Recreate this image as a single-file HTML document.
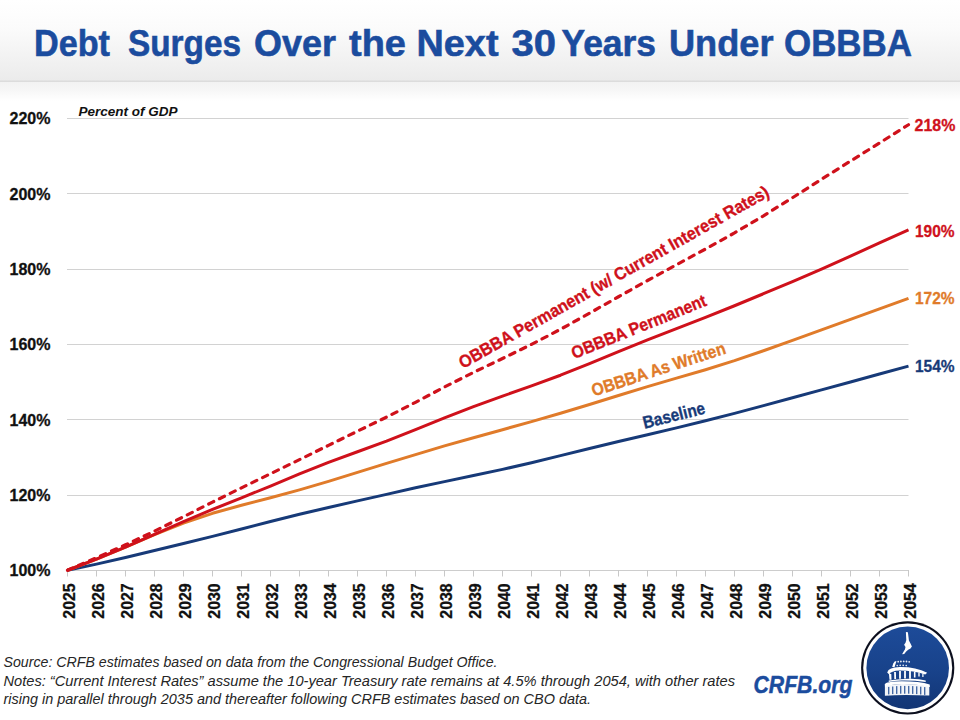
<!DOCTYPE html>
<html><head><meta charset="utf-8"><style>
html,body{margin:0;padding:0;background:#fff;}
body{width:960px;height:720px;overflow:hidden;position:relative;}
svg{position:absolute;left:0;top:0;}
text{font-family:"Liberation Sans",sans-serif;}
.yl{font-weight:bold;font-size:17px;fill:#111;stroke:#111;stroke-width:0.3px;}
.xl{font-weight:bold;font-size:16.5px;fill:#111;stroke:#111;stroke-width:0.3px;}
.rl{font-weight:bold;font-size:17px;stroke-width:0.3px;}
.ll{font-weight:bold;font-size:17.5px;stroke-width:0.35px;}
.fn{font-style:italic;font-size:14.3px;fill:#262626;}
</style></head><body>
<svg width="960" height="720" viewBox="0 0 960 720">
<defs>
<linearGradient id="hdr" x1="0" y1="0" x2="0" y2="1">
<stop offset="0" stop-color="#ffffff"/><stop offset="0.35" stop-color="#fbfbfb"/><stop offset="1" stop-color="#ebebeb"/>
</linearGradient>
<linearGradient id="shd" x1="0" y1="0" x2="0" y2="1">
<stop offset="0" stop-color="#f2f2f2"/><stop offset="0.4" stop-color="#f6f6f6"/><stop offset="1" stop-color="#ffffff"/>
</linearGradient>
<linearGradient id="lg" x1="0" y1="0" x2="0" y2="1">
<stop offset="0" stop-color="#1d4b99"/><stop offset="0.55" stop-color="#18428a"/><stop offset="1" stop-color="#123574"/>
</linearGradient>
</defs>
<rect x="0" y="0" width="960" height="81" fill="url(#hdr)"/>
<rect x="0" y="80.5" width="960" height="1.5" fill="#dcdcdc"/>
<rect x="0" y="82" width="960" height="19" fill="url(#shd)"/>
<g font-size="37.7" font-weight="bold" fill="#1b4c9e" stroke="#1b4c9e" stroke-width="0.6"><text x="34" y="56.25" textLength="76" lengthAdjust="spacingAndGlyphs">Debt</text><text x="128" y="56.25" textLength="113" lengthAdjust="spacingAndGlyphs">Surges</text><text x="254" y="56.25" textLength="82" lengthAdjust="spacingAndGlyphs">Over</text><text x="349" y="56.25" textLength="57" lengthAdjust="spacingAndGlyphs">the</text><text x="416.5" y="56.25" textLength="82.0" lengthAdjust="spacingAndGlyphs">Next</text><text x="511.5" y="56.25" textLength="44.5" lengthAdjust="spacingAndGlyphs">30</text><text x="561.5" y="56.25" textLength="94.5" lengthAdjust="spacingAndGlyphs">Years</text><text x="669" y="56.25" textLength="104.5" lengthAdjust="spacingAndGlyphs">Under</text><text x="784" y="56.25" textLength="128" lengthAdjust="spacingAndGlyphs">OBBBA</text></g>
<rect x="67" y="118" width="841.5" height="1" fill="#d2d2d2"/><rect x="67" y="193" width="841.5" height="1" fill="#d2d2d2"/><rect x="67" y="269" width="841.5" height="1" fill="#d2d2d2"/><rect x="67" y="344" width="841.5" height="1" fill="#d2d2d2"/><rect x="67" y="419" width="841.5" height="1" fill="#d2d2d2"/><rect x="67" y="495" width="841.5" height="1" fill="#d2d2d2"/>
<rect x="67" y="570" width="842" height="1" fill="#cdcdcd"/>
<line x1="67.50" y1="570" x2="67.50" y2="576.5" stroke="#c8c8c8" stroke-width="1"/><line x1="96.50" y1="570" x2="96.50" y2="576.5" stroke="#c8c8c8" stroke-width="1"/><line x1="125.50" y1="570" x2="125.50" y2="576.5" stroke="#c8c8c8" stroke-width="1"/><line x1="154.50" y1="570" x2="154.50" y2="576.5" stroke="#c8c8c8" stroke-width="1"/><line x1="183.50" y1="570" x2="183.50" y2="576.5" stroke="#c8c8c8" stroke-width="1"/><line x1="212.50" y1="570" x2="212.50" y2="576.5" stroke="#c8c8c8" stroke-width="1"/><line x1="241.50" y1="570" x2="241.50" y2="576.5" stroke="#c8c8c8" stroke-width="1"/><line x1="270.50" y1="570" x2="270.50" y2="576.5" stroke="#c8c8c8" stroke-width="1"/><line x1="299.50" y1="570" x2="299.50" y2="576.5" stroke="#c8c8c8" stroke-width="1"/><line x1="328.50" y1="570" x2="328.50" y2="576.5" stroke="#c8c8c8" stroke-width="1"/><line x1="357.50" y1="570" x2="357.50" y2="576.5" stroke="#c8c8c8" stroke-width="1"/><line x1="386.50" y1="570" x2="386.50" y2="576.5" stroke="#c8c8c8" stroke-width="1"/><line x1="415.50" y1="570" x2="415.50" y2="576.5" stroke="#c8c8c8" stroke-width="1"/><line x1="444.50" y1="570" x2="444.50" y2="576.5" stroke="#c8c8c8" stroke-width="1"/><line x1="473.50" y1="570" x2="473.50" y2="576.5" stroke="#c8c8c8" stroke-width="1"/><line x1="502.50" y1="570" x2="502.50" y2="576.5" stroke="#c8c8c8" stroke-width="1"/><line x1="531.50" y1="570" x2="531.50" y2="576.5" stroke="#c8c8c8" stroke-width="1"/><line x1="560.50" y1="570" x2="560.50" y2="576.5" stroke="#c8c8c8" stroke-width="1"/><line x1="589.50" y1="570" x2="589.50" y2="576.5" stroke="#c8c8c8" stroke-width="1"/><line x1="618.50" y1="570" x2="618.50" y2="576.5" stroke="#c8c8c8" stroke-width="1"/><line x1="647.50" y1="570" x2="647.50" y2="576.5" stroke="#c8c8c8" stroke-width="1"/><line x1="676.50" y1="570" x2="676.50" y2="576.5" stroke="#c8c8c8" stroke-width="1"/><line x1="705.50" y1="570" x2="705.50" y2="576.5" stroke="#c8c8c8" stroke-width="1"/><line x1="734.50" y1="570" x2="734.50" y2="576.5" stroke="#c8c8c8" stroke-width="1"/><line x1="763.50" y1="570" x2="763.50" y2="576.5" stroke="#c8c8c8" stroke-width="1"/><line x1="792.50" y1="570" x2="792.50" y2="576.5" stroke="#c8c8c8" stroke-width="1"/><line x1="821.50" y1="570" x2="821.50" y2="576.5" stroke="#c8c8c8" stroke-width="1"/><line x1="850.50" y1="570" x2="850.50" y2="576.5" stroke="#c8c8c8" stroke-width="1"/><line x1="879.50" y1="570" x2="879.50" y2="576.5" stroke="#c8c8c8" stroke-width="1"/><line x1="908.50" y1="570" x2="908.50" y2="576.5" stroke="#c8c8c8" stroke-width="1"/>
<text x="9.5" y="576.25" class="yl" textLength="41" lengthAdjust="spacingAndGlyphs">100%</text><text x="9.5" y="500.93" class="yl" textLength="41" lengthAdjust="spacingAndGlyphs">120%</text><text x="9.5" y="425.61" class="yl" textLength="41" lengthAdjust="spacingAndGlyphs">140%</text><text x="9.5" y="350.29" class="yl" textLength="41" lengthAdjust="spacingAndGlyphs">160%</text><text x="9.5" y="274.97" class="yl" textLength="41" lengthAdjust="spacingAndGlyphs">180%</text><text x="9.5" y="199.65" class="yl" textLength="41" lengthAdjust="spacingAndGlyphs">200%</text><text x="9.5" y="124.33" class="yl" textLength="41" lengthAdjust="spacingAndGlyphs">220%</text>
<text x="78.5" y="115.6" font-size="13.6" font-weight="bold" font-style="italic" fill="#111" textLength="99" lengthAdjust="spacingAndGlyphs">Percent of GDP</text>
<path d="M67.50,570.25 L96.50,564.12 L125.50,557.50 L154.50,550.57 L183.50,543.57 L212.50,536.38 L241.50,528.97 L270.50,521.52 L299.50,514.28 L328.50,507.45 L357.50,500.91 L386.50,494.35 L415.50,487.83 L444.50,481.60 L473.50,475.57 L502.50,469.37 L531.50,462.71 L560.50,455.65 L589.50,448.49 L618.50,441.50 L647.50,434.67 L676.50,427.85 L705.50,420.81 L734.50,413.40 L763.50,405.65 L792.50,397.77 L821.50,389.86 L850.50,381.95 L879.50,374.04 L908.50,366.13" fill="none" stroke="#173a78" stroke-width="3.0" stroke-linejoin="round" stroke-linecap="butt"/>
<path d="M67.50,570.25 L96.50,559.16 L125.50,547.16 L154.50,534.64 L183.50,523.01 L212.50,513.31 L241.50,505.29 L270.50,497.78 L299.50,489.87 L328.50,481.35 L357.50,472.43 L386.50,463.44 L415.50,454.56 L444.50,445.92 L473.50,437.69 L502.50,429.71 L531.50,421.61 L560.50,413.21 L589.50,404.48 L618.50,395.53 L647.50,386.68 L676.50,378.16 L705.50,369.69 L734.50,360.60 L763.50,350.72 L792.50,340.41 L821.50,329.96 L850.50,319.43 L879.50,308.89 L908.50,298.34" fill="none" stroke="#e07b2a" stroke-width="3.0" stroke-linejoin="round" stroke-linecap="butt"/>
<path d="M67.50,570.25 L96.50,559.16 L125.50,547.16 L154.50,534.40 L183.50,521.65 L212.50,509.48 L241.50,497.85 L270.50,486.03 L299.50,473.89 L328.50,462.35 L357.50,451.74 L386.50,441.08 L415.50,429.66 L444.50,417.92 L473.50,406.66 L502.50,396.14 L531.50,385.90 L560.50,375.22 L589.50,363.61 L618.50,351.54 L647.50,339.84 L676.50,328.64 L705.50,317.41 L734.50,305.76 L763.50,293.73 L792.50,281.52 L821.50,269.02 L850.50,256.12 L879.50,242.98 L908.50,229.80" fill="none" stroke="#cf111b" stroke-width="3.0" stroke-linejoin="round" stroke-linecap="butt"/>
<path d="M67.50,570.25 L96.50,557.78 L125.50,544.83 L154.50,531.13 L183.50,516.73 L212.50,502.13 L241.50,487.82 L270.50,473.75 L299.50,459.62 L328.50,445.34 L357.50,431.19 L386.50,417.12 L415.50,402.31 L444.50,387.01 L473.50,372.39 L502.50,358.51 L531.50,344.38 L560.50,329.30 L589.50,313.22 L618.50,296.74 L647.50,280.50 L676.50,264.71 L705.50,249.06 L734.50,232.91 L763.50,215.78 L792.50,197.70 L821.50,179.29 L850.50,161.10 L879.50,143.00 L908.50,124.73" fill="none" stroke="#cf111b" stroke-width="3.2" stroke-dasharray="5.6 6.4" stroke-linecap="round" stroke-linejoin="round"/>
<text transform="translate(75.10,583.3) rotate(-90)" text-anchor="end" class="xl" textLength="35.4" lengthAdjust="spacingAndGlyphs">2025</text><text transform="translate(104.10,583.3) rotate(-90)" text-anchor="end" class="xl" textLength="35.4" lengthAdjust="spacingAndGlyphs">2026</text><text transform="translate(133.10,583.3) rotate(-90)" text-anchor="end" class="xl" textLength="35.4" lengthAdjust="spacingAndGlyphs">2027</text><text transform="translate(162.10,583.3) rotate(-90)" text-anchor="end" class="xl" textLength="35.4" lengthAdjust="spacingAndGlyphs">2028</text><text transform="translate(191.10,583.3) rotate(-90)" text-anchor="end" class="xl" textLength="35.4" lengthAdjust="spacingAndGlyphs">2029</text><text transform="translate(220.10,583.3) rotate(-90)" text-anchor="end" class="xl" textLength="35.4" lengthAdjust="spacingAndGlyphs">2030</text><text transform="translate(249.10,583.3) rotate(-90)" text-anchor="end" class="xl" textLength="35.4" lengthAdjust="spacingAndGlyphs">2031</text><text transform="translate(278.10,583.3) rotate(-90)" text-anchor="end" class="xl" textLength="35.4" lengthAdjust="spacingAndGlyphs">2032</text><text transform="translate(307.10,583.3) rotate(-90)" text-anchor="end" class="xl" textLength="35.4" lengthAdjust="spacingAndGlyphs">2033</text><text transform="translate(336.10,583.3) rotate(-90)" text-anchor="end" class="xl" textLength="35.4" lengthAdjust="spacingAndGlyphs">2034</text><text transform="translate(365.10,583.3) rotate(-90)" text-anchor="end" class="xl" textLength="35.4" lengthAdjust="spacingAndGlyphs">2035</text><text transform="translate(394.10,583.3) rotate(-90)" text-anchor="end" class="xl" textLength="35.4" lengthAdjust="spacingAndGlyphs">2036</text><text transform="translate(423.10,583.3) rotate(-90)" text-anchor="end" class="xl" textLength="35.4" lengthAdjust="spacingAndGlyphs">2037</text><text transform="translate(452.10,583.3) rotate(-90)" text-anchor="end" class="xl" textLength="35.4" lengthAdjust="spacingAndGlyphs">2038</text><text transform="translate(481.10,583.3) rotate(-90)" text-anchor="end" class="xl" textLength="35.4" lengthAdjust="spacingAndGlyphs">2039</text><text transform="translate(510.10,583.3) rotate(-90)" text-anchor="end" class="xl" textLength="35.4" lengthAdjust="spacingAndGlyphs">2040</text><text transform="translate(539.10,583.3) rotate(-90)" text-anchor="end" class="xl" textLength="35.4" lengthAdjust="spacingAndGlyphs">2041</text><text transform="translate(568.10,583.3) rotate(-90)" text-anchor="end" class="xl" textLength="35.4" lengthAdjust="spacingAndGlyphs">2042</text><text transform="translate(597.10,583.3) rotate(-90)" text-anchor="end" class="xl" textLength="35.4" lengthAdjust="spacingAndGlyphs">2043</text><text transform="translate(626.10,583.3) rotate(-90)" text-anchor="end" class="xl" textLength="35.4" lengthAdjust="spacingAndGlyphs">2044</text><text transform="translate(655.10,583.3) rotate(-90)" text-anchor="end" class="xl" textLength="35.4" lengthAdjust="spacingAndGlyphs">2045</text><text transform="translate(684.10,583.3) rotate(-90)" text-anchor="end" class="xl" textLength="35.4" lengthAdjust="spacingAndGlyphs">2046</text><text transform="translate(713.10,583.3) rotate(-90)" text-anchor="end" class="xl" textLength="35.4" lengthAdjust="spacingAndGlyphs">2047</text><text transform="translate(742.10,583.3) rotate(-90)" text-anchor="end" class="xl" textLength="35.4" lengthAdjust="spacingAndGlyphs">2048</text><text transform="translate(771.10,583.3) rotate(-90)" text-anchor="end" class="xl" textLength="35.4" lengthAdjust="spacingAndGlyphs">2049</text><text transform="translate(800.10,583.3) rotate(-90)" text-anchor="end" class="xl" textLength="35.4" lengthAdjust="spacingAndGlyphs">2050</text><text transform="translate(829.10,583.3) rotate(-90)" text-anchor="end" class="xl" textLength="35.4" lengthAdjust="spacingAndGlyphs">2051</text><text transform="translate(858.10,583.3) rotate(-90)" text-anchor="end" class="xl" textLength="35.4" lengthAdjust="spacingAndGlyphs">2052</text><text transform="translate(887.10,583.3) rotate(-90)" text-anchor="end" class="xl" textLength="35.4" lengthAdjust="spacingAndGlyphs">2053</text><text transform="translate(916.10,583.3) rotate(-90)" text-anchor="end" class="xl" textLength="35.4" lengthAdjust="spacingAndGlyphs">2054</text>
<text x="914.6" y="131" class="rl" fill="#cf111b" stroke="#cf111b" textLength="40.8" lengthAdjust="spacingAndGlyphs">218%</text>
<text x="915" y="236.5" class="rl" fill="#cf111b" stroke="#cf111b" textLength="39.6" lengthAdjust="spacingAndGlyphs">190%</text>
<text x="915" y="304" class="rl" fill="#e07b2a" stroke="#e07b2a" textLength="39.6" lengthAdjust="spacingAndGlyphs">172%</text>
<text x="915" y="372" class="rl" fill="#173a78" stroke="#173a78" textLength="39.6" lengthAdjust="spacingAndGlyphs">154%</text>
<text transform="translate(463,368.9) rotate(-29.4)" class="ll" fill="#cf111b" stroke="#cf111b" textLength="353" lengthAdjust="spacingAndGlyphs">OBBBA Permanent (w/ Current Interest Rates)</text>
<text transform="translate(574.2,359.2) rotate(-22.0)" class="ll" fill="#cf111b" stroke="#cf111b" textLength="144" lengthAdjust="spacingAndGlyphs">OBBBA Permanent</text>
<text transform="translate(593.7,396.5) rotate(-18.0)" class="ll" fill="#e07b2a" stroke="#e07b2a" textLength="140" lengthAdjust="spacingAndGlyphs">OBBBA As Written</text>
<text transform="translate(644.5,428.7) rotate(-14)" class="ll" fill="#173a78" stroke="#173a78" textLength="63.5" lengthAdjust="spacingAndGlyphs">Baseline</text>
<text x="3.5" y="667" class="fn" textLength="494" lengthAdjust="spacingAndGlyphs">Source: CRFB estimates based on data from the Congressional Budget Office.</text>
<text x="3.5" y="685.75" class="fn" textLength="731.5" lengthAdjust="spacingAndGlyphs">Notes: “Current Interest Rates” assume the 10-year Treasury rate remains at 4.5% through 2054, with other rates</text>
<text x="3.5" y="704.25" class="fn" textLength="587.5" lengthAdjust="spacingAndGlyphs">rising in parallel through 2035 and thereafter following CRFB estimates based on CBO data.</text>
<text x="753.5" y="693.2" font-size="24" stroke="#1b4c9e" stroke-width="0.5" font-weight="bold" font-style="italic" fill="#1b4c9e" textLength="99" lengthAdjust="spacingAndGlyphs">CRFB.org</text>
<g transform="translate(907.7,667.9)">
<circle r="46.6" fill="#0c0f1e"/>
<circle r="44.5" fill="#ffffff"/>
<circle r="41.3" fill="url(#lg)"/>
<g fill="#ffffff">
<path d="M-1.8,-35.8 L0.2,-35.6 L0.8,-31 L1.2,-27.5 L2.8,-24.5 L4.2,-21.5 L2.8,-19.5 L0.5,-18.2 L-1.5,-16.5 L-3.5,-14 L-5.6,-13.6 L-4.2,-16.2 L-2.8,-18.5 L-2.2,-21 L-3.6,-23.2 L-2.2,-25.2 L-1.4,-28 L-1.6,-31.5 Z"/>
<path d="M-15.5,-1 L-14.5,-4.5 L-12.8,-6.6 L-11.2,-6.6 L-12.2,-4 L-13.2,-0.6 Z"/>
<g opacity="0.9"><circle cx="-9.5" cy="-6.2" r="0.9"/><circle cx="-6.8" cy="-6.4" r="0.9"/><circle cx="-4" cy="-6.5" r="0.9"/><circle cx="-1.2" cy="-6.4" r="0.9"/><circle cx="1.5" cy="-6.1" r="0.9"/>
<circle cx="-10.5" cy="-2.3" r="0.8"/><circle cx="-7.5" cy="-2.5" r="0.8"/><circle cx="-4.5" cy="-2.5" r="0.8"/><circle cx="-1.5" cy="-2.3" r="0.8"/></g>
<path d="M-20.5,4.5 Q-19,-0.5 -8,-0.8 Q8,-1 19.5,4.8 L17.5,6.5 Q6,2.5 -8,2.5 Q-17,2.8 -18.5,6.5 Z"/>
<path d="M-18.8,5.5 L-18.2,11.8 L-16.2,11.8 L-16.4,6 Z M-13.6,4 L-13.4,11.2 L-11.6,11.2 L-11.8,4 Z M-8.6,3.2 L-8.6,10.8 L-6.8,10.8 L-6.8,3.2 Z M-3.6,3 L-3.6,10.6 L-1.8,10.6 L-1.8,3 Z M1.4,3.2 L1.4,10.8 L3.2,10.8 L3.2,3.2 Z M6.2,3.8 L6.2,9.5 L7.8,9.5 L7.8,3.8 Z M10.6,4.6 L10.6,8.5 L12,8.5 L12,4.6 Z M14.6,5.6 L14.6,9 L15.8,9 L15.8,5.6 Z"/>
<path d="M-19,12.5 Q-6,10.6 3,10.8 Q12,11 18,12.5 L18,14 Q6,12.4 -6,12.6 Q-14,13 -19,14.2 Z"/>
<path d="M-23,16.5 Q-22,13.6 -6,13.4 Q12,13.5 22,16.6 L22.2,19 Q8,16 -6,16.2 Q-18,16.4 -22.6,19.5 Z"/>
<path d="M-22.8,18 L-22.8,27.8 Q-6,26.4 21.6,27.6 L21.6,18 Q8,16 -6,16.2 Q-18,16.6 -22.8,18 Z" opacity="0.95"/>
</g>
<g fill="#1a4791">
<rect x="-19.5" y="19" width="1.1" height="7.5"/><rect x="-15.5" y="18.6" width="1.1" height="7.6"/><rect x="-11.5" y="18.2" width="1.1" height="7.8"/><rect x="-7.5" y="18" width="1.1" height="7.8"/><rect x="-3.5" y="18" width="1.1" height="7.8"/><rect x="0.5" y="18" width="1.1" height="7.8"/><rect x="4.5" y="18.2" width="1.1" height="7.8"/><rect x="8.5" y="18.4" width="1.1" height="7.8"/><rect x="12.5" y="18.8" width="1.1" height="7.8"/><rect x="16.5" y="19.2" width="1.1" height="7.8"/>
</g>
</g>
</svg>
</body></html>
